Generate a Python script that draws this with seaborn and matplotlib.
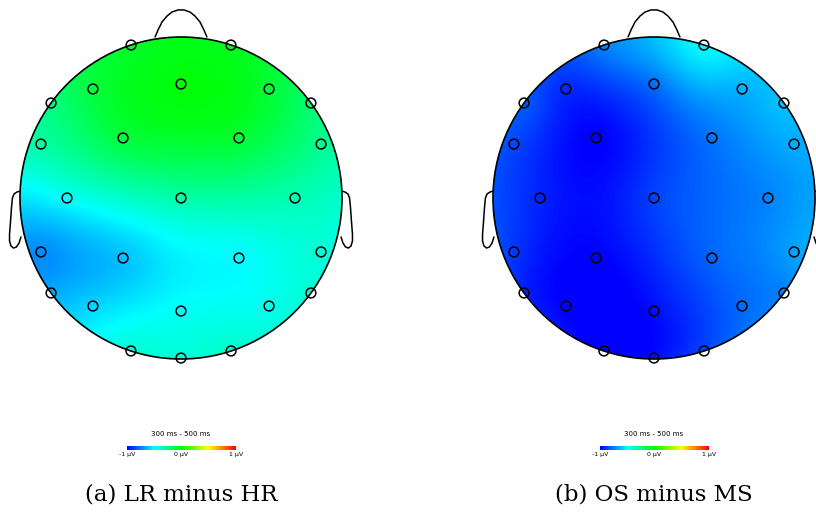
import numpy as np
import matplotlib
matplotlib.use("Agg")
import matplotlib.pyplot as plt
import seaborn as sns
import pandas as pd
from matplotlib.colors import LinearSegmentedColormap, Normalize
from matplotlib.patches import Circle
from matplotlib.cm import ScalarMappable

# ---------------- data ----------------
channels = ["Fp1", "Fp2", "AF3", "Fz", "AF4", "F7", "F8", "FC5", "F3", "F4", "FC6",
            "T7", "Cz", "T8", "CP5", "P3", "P4", "CP6", "P7", "P8", "PO3", "Pz", "PO4",
            "O1", "O2", "Oz"]
chan_x = [-0.31, 0.31, -0.547, 0.0, 0.547, -0.807, 0.807, -0.870, -0.360, 0.360, 0.870,
          -0.708, 0.0, 0.708, -0.870, -0.360, 0.360, 0.870, -0.807, 0.807, -0.547, 0.0, 0.547,
          -0.311, 0.311, 0.0]
chan_y = [0.95, 0.95, 0.677, 0.708, 0.677, 0.590, 0.590, 0.335, 0.373, 0.373, 0.335,
          0.0, 0.0, 0.0, -0.335, -0.373, -0.373, -0.335, -0.590, -0.590, -0.671, -0.702, -0.671,
          -0.950, -0.950, -0.994]

# mean amplitude (µV), 300-500 ms
lr_minus_hr = [-0.08, -0.06, -0.12, -0.02, -0.10, -0.25, -0.22, -0.32, -0.12, -0.10, -0.28,
               -0.48, -0.33, -0.35, -0.72, -0.62, -0.50, -0.42, -0.66, -0.42, -0.58, -0.48, -0.46,
               -0.42, -0.40, -0.42]
os_minus_ms = [-0.74, -0.50, -0.92, -0.78, -0.65, -0.82, -0.62, -0.86, -1.0, -0.77, -0.66,
               -0.93, -0.87, -0.74, -0.89, -1.0, -0.80, -0.68, -0.93, -0.74, -1.0, -0.97, -0.79,
               -1.0, -0.86, -0.97]

panels = ["(a) LR minus HR", "(b) OS minus MS"]
window_label = "300 ms - 500 ms"
cbar_ticks = [-1, 0, 1]
cbar_labels = ["-1 µV", "0 µV", "1 µV"]

# ---------------- style ----------------
sns.set_theme(style="white")
plt.rcParams["font.family"] = ["DejaVu Sans"]
plt.rcParams["text.color"] = "black"
plt.rcParams["xtick.color"] = "black"

cmap = LinearSegmentedColormap.from_list(
    "bcgyr", [(0, "#0000ff"), (0.25, "#00ffff"), (0.5, "#00ff00"), (0.75, "#ffff00"), (1, "#ff0000")])
norm = Normalize(-1, 1)

W, H = 816, 513
fig = plt.figure(figsize=(W / 100, H / 100), dpi=100)

R = 161.0  # head radius in px
centers = [181, 654]
cy = 198


def biharmonic(xs, ys, vs, gx, gy):
    xs = np.asarray(xs); ys = np.asarray(ys); vs = np.asarray(vs)
    d = np.hypot(xs[:, None] - xs[None, :], ys[:, None] - ys[None, :])
    with np.errstate(divide="ignore", invalid="ignore"):
        G = np.where(d > 0, d ** 2 * (np.log(d) - 1), 0.0)
    w = np.linalg.solve(G, vs)
    dd = np.hypot(gx[..., None] - xs, gy[..., None] - ys)
    with np.errstate(divide="ignore", invalid="ignore"):
        Gg = np.where(dd > 0, dd ** 2 * (np.log(dd) - 1), 0.0)
    return Gg @ w


ear_x = [1.0, 1.019, 1.037, 1.047, 1.053, 1.059, 1.065, 1.065, 1.056, 1.040, 1.022, 1.006, 0.994]
ear_y = [0.043, 0.037, 0.025, 0.0, -0.062, -0.149, -0.224, -0.267, -0.298, -0.311, -0.304, -0.280, -0.242]
nose_x = [-0.161, -0.143, -0.118, -0.087, -0.056, -0.019, 0.019, 0.056, 0.087, 0.118, 0.143, 0.161]
nose_y = [1.0, 1.043, 1.093, 1.130, 1.155, 1.168, 1.168, 1.155, 1.130, 1.093, 1.043, 1.0]

n = 301
g = np.linspace(-1, 1, n)
GX, GY = np.meshgrid(g, g)

for i, (cx, vals, cap) in enumerate(zip(centers, [lr_minus_hr, os_minus_ms], panels)):
    half_w = 200
    left_px, right_px = cx - half_w, cx + half_w
    top_px, bot_px = 0, 400
    ax = fig.add_axes([left_px / W, 1 - bot_px / H, (right_px - left_px) / W, (bot_px - top_px) / H])
    ax.set_xlim(-half_w / R, half_w / R)
    ax.set_ylim((cy - bot_px) / R, (cy - top_px) / R)
    ax.set_axis_off()

    Z = biharmonic(chan_x, chan_y, vals, GX, GY)
    Z[np.hypot(GX, GY) > 1.01] = np.nan
    im = ax.imshow(Z, extent=(-1, 1, -1, 1), origin="lower", cmap=cmap, norm=norm,
                   interpolation="bilinear", zorder=1)
    clip = Circle((0, 0), 1.0, transform=ax.transData)
    im.set_clip_path(clip)

    ax.add_patch(Circle((0, 0), 1.0, fill=False, ec="black", lw=1.2, zorder=3))
    ax.plot(ear_x, ear_y, color="black", lw=1.1, zorder=3, solid_joinstyle="round")
    ax.plot([-x for x in ear_x], ear_y, color="black", lw=1.1, zorder=3, solid_joinstyle="round")
    ax.plot(nose_x, nose_y, color="black", lw=1.1, zorder=3, solid_joinstyle="round")

    df = pd.DataFrame({"x": chan_x, "y": chan_y, "ch": channels})
    sns.scatterplot(data=df, x="x", y="y", ax=ax, s=50, facecolor="none",
                    edgecolor="black", linewidth=1.1, zorder=4, legend=False)
    ax.set_xlabel(""); ax.set_ylabel("")
    ax.set_axis_off()

    # colorbar
    bl, br = cx - 54, cx + 55
    cax = fig.add_axes([bl / W, 1 - 450 / H, (br - bl) / W, 4 / H])
    cb = fig.colorbar(ScalarMappable(norm=norm, cmap=cmap), cax=cax, orientation="horizontal")
    cb.outline.set_visible(False)
    cb.set_ticks(cbar_ticks)
    cb.set_ticklabels(cbar_labels)
    cax.tick_params(length=0, labelsize=4.5, pad=1.5, labelcolor="black")
    fig.text(cx / W, 1 - 434 / H, window_label, ha="center", va="center", fontsize=5)

    fig.text(cx / W, 1 - 501 / H, cap, ha="center", va="baseline", fontsize=16.5,
             family=["DejaVu Serif"], color="black")

fig.savefig("out.png", dpi=100)
